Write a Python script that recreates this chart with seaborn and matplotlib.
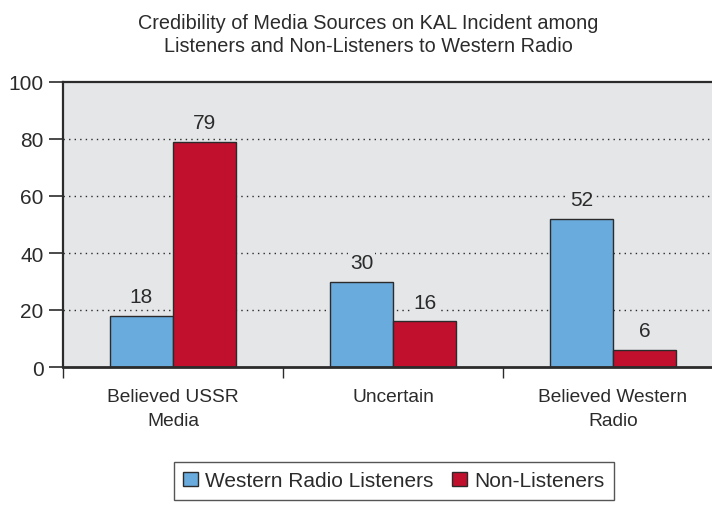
import matplotlib
matplotlib.use("Agg")
import matplotlib.pyplot as plt
import seaborn as sns
import pandas as pd

# data
categories = ["Believed USSR\nMedia", "Uncertain", "Believed Western\nRadio"]
groups = ["Western Radio Listeners", "Non-Listeners"]
listeners = [18, 30, 52]
non_listeners = [79, 16, 6]
y_ticks = [0, 20, 40, 60, 80, 100]

title = ("Credibility of Media Sources on KAL Incident among\n"
         "Listeners and Non-Listeners to Western Radio")

blue = "#6aabdd"
red = "#c1102e"
panel = "#e5e6e8"
ink = "#2b2b2b"
fs = 15

df = pd.DataFrame({
    "response": categories * 2,
    "group": [groups[0]] * 3 + [groups[1]] * 3,
    "pct": listeners + non_listeners,
})

sns.set_style("white")
plt.rcParams["font.family"] = ["Liberation Sans", "DejaVu Sans"]

fig = plt.figure(figsize=(7.12, 5.06), dpi=100)
ax = fig.add_axes([63 / 712, 1 - 368 / 506, 660 / 712, 285 / 506])
ax.set_facecolor(panel)

sns.barplot(data=df, x="response", y="pct", hue="group", order=categories,
            hue_order=groups, palette=[blue, red], width=0.573,
            edgecolor=ink, linewidth=1.0, saturation=1, ax=ax)

handles, labels = ax.get_legend_handles_labels()
ax.get_legend().remove()

ax.set_ylim(0, 100)
ax.set_xlim(-0.5, 2.5)
ax.set_yticks(y_ticks)
ax.set_xlabel("")
ax.set_ylabel("")

for y in y_ticks[1:-1]:
    ax.axhline(y, color=ink, linestyle=(0, (1, 3)), linewidth=1.0, zorder=0.5)

for cont in ax.containers:
    ax.bar_label(cont, padding=7, fontsize=fs, color=ink,
                 bbox=dict(facecolor=panel, edgecolor="none", pad=1))

for side in ["top", "left", "bottom", "right"]:
    ax.spines[side].set_visible(True)
    ax.spines[side].set_color(ink)
ax.spines["top"].set_linewidth(1.6)
ax.spines["left"].set_linewidth(1.6)
ax.spines["bottom"].set_linewidth(2.0)

ax.tick_params(axis="y", which="major", direction="out", length=10, width=1.2,
               color=ink, labelsize=fs, labelcolor=ink, left=True, pad=4)
# original category labels use a condensed face; a middle size is a compromise
ax.set_xticks(range(len(categories)))
ax.set_xticklabels(categories, linespacing=1.55, fontsize=13.8, color=ink)
ax.tick_params(axis="x", which="major", length=0, pad=15)
ax.set_xticks([-0.5, 0.5, 1.5, 2.5], minor=True)
ax.tick_params(axis="x", which="minor", direction="out", length=8, width=1.0,
               color=ink, bottom=True)

fig.text(368 / 712, 1 - 14 / 506, title, ha="center", va="top",
         fontsize=14.3, color=ink, linespacing=1.3)

leg = fig.legend(handles, labels, loc="upper center",
                 bbox_to_anchor=(394 / 712, 1 - 463 / 506), ncol=2,
                 frameon=True, fancybox=False, fontsize=fs,
                 handlelength=0.7, handleheight=0.7, handletextpad=0.35,
                 columnspacing=0.9, borderpad=0.45, borderaxespad=0)
leg.get_frame().set_edgecolor(ink)
leg.get_frame().set_linewidth(1.0)
for t in leg.get_texts():
    t.set_color(ink)

fig.savefig("out.png", dpi=100)
